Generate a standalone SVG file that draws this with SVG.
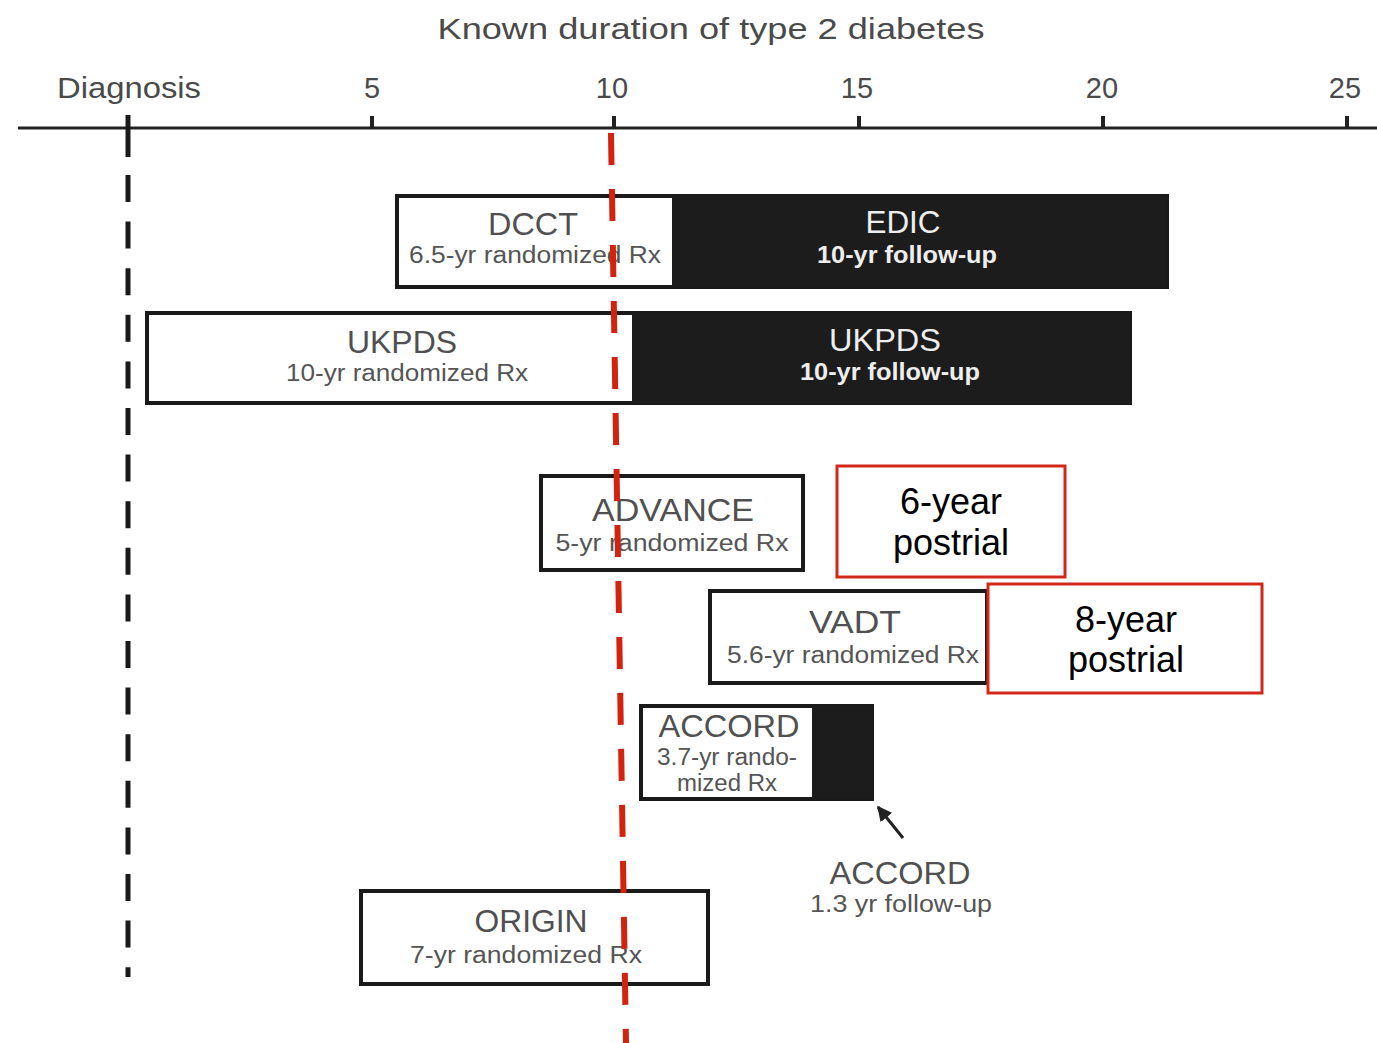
<svg xmlns="http://www.w3.org/2000/svg" width="1377" height="1043" viewBox="0 0 1377 1043">
<defs>
<style>
text{font-family:"Liberation Sans",Arial,sans-serif;text-anchor:middle}
.ax{font-size:29px;fill:#4a4a4a}
.tt{font-size:32px;fill:#505050}
.st{font-size:23px;fill:#555}
.wt{font-size:32px;fill:#eeeeee}
.ws{font-size:23px;fill:#eeeeee;font-weight:bold}
.box{fill:#fff;stroke:#1a1a1a;stroke-width:4}
.blk{fill:#1c1c1c}
.red{fill:#fff;stroke:#d2281a;stroke-width:3}
.rt{font-size:36px;fill:#000}
</style>
<marker id="ah" viewBox="0 0 10 10" refX="9" refY="5" markerWidth="5" markerHeight="5" orient="auto">
<path d="M0,0 L10,5 L0,10 z" fill="#222"/>
</marker>
</defs>
<rect width="1377" height="1043" fill="#fff"/>

<g id="axis">
<text class="ax" x="711" y="39" textLength="547" lengthAdjust="spacingAndGlyphs">Known duration of type 2 diabetes</text>
<line x1="18" y1="128" x2="1377" y2="128" stroke="#222" stroke-width="3"/>
<text class="ax" x="129" y="98" textLength="144" lengthAdjust="spacingAndGlyphs">Diagnosis</text>
<text class="ax" x="372" y="98">5</text>
<text class="ax" x="612" y="98">10</text>
<text class="ax" x="857" y="98">15</text>
<text class="ax" x="1102" y="98">20</text>
<text class="ax" x="1345" y="98">25</text>
<g stroke="#222" stroke-width="4">
<line x1="372" y1="116" x2="372" y2="128"/>
<line x1="614" y1="116" x2="614" y2="128"/>
<line x1="859" y1="116" x2="859" y2="128"/>
<line x1="1103" y1="116" x2="1103" y2="128"/>
<line x1="1347" y1="116" x2="1347" y2="128"/>
</g>
<line x1="128" y1="115" x2="128" y2="157" stroke="#1a1a1a" stroke-width="5"/>
<line x1="128" y1="175" x2="128" y2="977" stroke="#1a1a1a" stroke-width="5" stroke-dasharray="27 19.6"/>
</g>

<g id="dcct-edic">
<rect class="box" x="397" y="196" width="770" height="91"/>
<rect class="blk" x="672" y="196" width="495" height="91"/>
<text class="tt" x="533" y="235" textLength="90" lengthAdjust="spacingAndGlyphs">DCCT</text>
<text class="st" x="535" y="263" textLength="252" lengthAdjust="spacingAndGlyphs">6.5-yr randomized Rx</text>
<text class="wt" x="903" y="233" textLength="75" lengthAdjust="spacingAndGlyphs">EDIC</text>
<text class="ws" x="907" y="263" textLength="180" lengthAdjust="spacingAndGlyphs">10-yr follow-up</text>
</g>

<g id="ukpds">
<rect class="box" x="147" y="313" width="983" height="90"/>
<rect class="blk" x="632" y="313" width="498" height="90"/>
<text class="tt" x="402" y="353" textLength="110" lengthAdjust="spacingAndGlyphs">UKPDS</text>
<text class="st" x="407" y="381" textLength="242" lengthAdjust="spacingAndGlyphs">10-yr randomized Rx</text>
<text class="wt" x="885" y="351" textLength="112" lengthAdjust="spacingAndGlyphs">UKPDS</text>
<text class="ws" x="890" y="380" textLength="180" lengthAdjust="spacingAndGlyphs">10-yr follow-up</text>
</g>

<g id="advance">
<rect class="box" x="541" y="476" width="262" height="94" stroke-width="5"/>
<text class="tt" x="673" y="521" textLength="162" lengthAdjust="spacingAndGlyphs">ADVANCE</text>
<text class="st" x="672" y="551" textLength="233" lengthAdjust="spacingAndGlyphs">5-yr randomized Rx</text>
</g>

<g id="vadt">
<rect class="box" x="710" y="591" width="277" height="92"/>
<text class="tt" x="855" y="633" textLength="92" lengthAdjust="spacingAndGlyphs">VADT</text>
<text class="st" x="853" y="663" textLength="252" lengthAdjust="spacingAndGlyphs">5.6-yr randomized Rx</text>
</g>

<g id="accord">
<rect class="box" x="641" y="706" width="231" height="93"/>
<rect class="blk" x="812" y="706" width="60" height="93"/>
<text class="tt" x="729" y="737" textLength="141" lengthAdjust="spacingAndGlyphs">ACCORD</text>
<text class="st" x="727" y="765" textLength="140" lengthAdjust="spacingAndGlyphs">3.7-yr rando-</text>
<text class="st" x="727" y="791" textLength="100" lengthAdjust="spacingAndGlyphs">mized Rx</text>
</g>

<g id="accord-followup">
<text class="tt" x="900" y="884" textLength="141" lengthAdjust="spacingAndGlyphs">ACCORD</text>
<text class="st" x="901" y="912" textLength="182" lengthAdjust="spacingAndGlyphs">1.3 yr follow-up</text>
</g>

<g id="origin">
<rect class="box" x="361" y="891" width="347" height="93" stroke-width="5"/>
<text class="tt" x="531" y="932" textLength="113" lengthAdjust="spacingAndGlyphs">ORIGIN</text>
<text class="st" x="526" y="963" textLength="232" lengthAdjust="spacingAndGlyphs">7-yr randomized Rx</text>
</g>

<g id="postrial-6">
<rect class="red" x="837" y="466" width="228" height="111"/>
<text class="rt" x="951" y="514">6-year</text>
<text class="rt" x="951" y="555">postrial</text>
</g>

<g id="postrial-8">
<rect class="red" x="988" y="584" width="274" height="109"/>
<text class="rt" x="1126" y="632">8-year</text>
<text class="rt" x="1126" y="672">postrial</text>
</g>

<g id="connectors">
<line x1="903" y1="838" x2="878" y2="807" stroke="#222" stroke-width="3" marker-end="url(#ah)"/>
<line x1="611" y1="133" x2="626" y2="1043" stroke="#d2230f" stroke-width="6" stroke-dasharray="32 24"/>
</g>
</svg>
